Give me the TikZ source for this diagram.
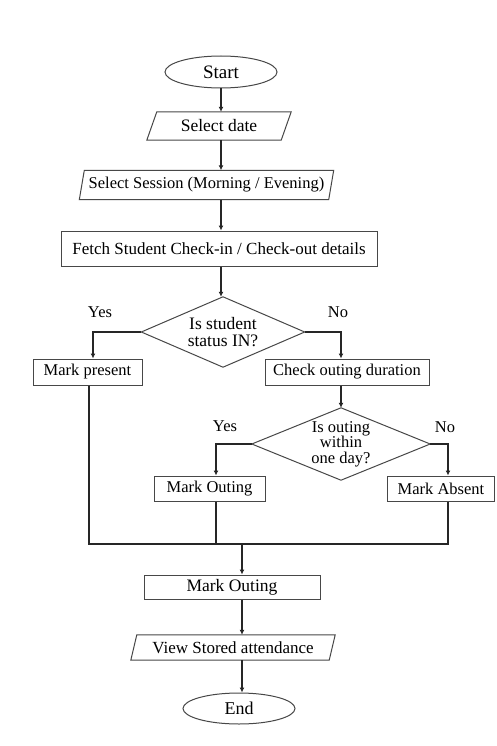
\documentclass[tikz,border=0pt]{standalone}
\usepackage{fontspec}
\setmainfont{Liberation Serif}
\usetikzlibrary{shapes.geometric,arrows.meta}
\newcommand\pgram[2]{\draw[shapeline] ([xshift=#2]#1.north west) -- ([xshift=#2]#1.north east) -- ([xshift=-#2]#1.south east) -- ([xshift=-#2]#1.south west) -- cycle;}
\newcommand\dmd[1]{\draw[shapeline] (#1.north) -- (#1.east) -- (#1.south) -- (#1.west) -- cycle;}
\begin{document}
\begin{tikzpicture}[x=1pt,y=-1pt,
  shapeline/.style={draw=black!72, line width=1pt},
  line/.style={draw=black!85, line width=1.2pt},
  arr/.style={line, -{Latex[length=5pt,width=5pt]}},
  term/.style={ellipse, draw=black!72, line width=1pt, inner sep=0pt, font=\fontsize{19}{19}\selectfont},
  proc/.style={rectangle, draw=black!72, line width=1pt, inner sep=0pt, font=\fontsize{16.5}{16}\selectfont},
  io/.style={rectangle, inner sep=0pt, font=\fontsize{16.5}{16}\selectfont},
  dec/.style={rectangle, inner sep=0pt, align=center, font=\fontsize{17.5}{16.5}\selectfont},
  lab/.style={font=\fontsize{16.5}{16}\selectfont}
]
\useasboundingbox (0,0) rectangle (496,746);
\fill[white] (0,0) rectangle (496,746);

\node[term, minimum width=112pt, minimum height=32pt] (start) at (221,72) {Start};
\node[io, minimum width=134pt, minimum height=28pt, font=\fontsize{17.5}{16}\selectfont] (date) at (219,126) {Select date};
\pgram{date}{5pt}
\node[io, minimum width=249pt, minimum height=29pt] (session) at (206.5,185) {Select Session (Morning / Evening)};
\pgram{session}{2.5pt}
\node[proc, minimum width=316pt, minimum height=35pt, font=\fontsize{17}{16}\selectfont] (fetch) at (219,248.5) {Fetch Student Check-in / Check-out details};
\node[dec, minimum width=163pt, minimum height=70pt] (d1) at (223,332) {Is student\\status IN?};
\dmd{d1}
\node[lab] (yes1) at (100,312) {Yes};
\node[lab] (no1) at (338,312) {No};
\node[proc, minimum width=109pt, minimum height=26pt] (present) at (87.5,372) {Mark present};
\node[proc, minimum width=164pt, minimum height=26pt] (check) at (347,372) {Check outing duration};
\node[dec, minimum width=178pt, minimum height=72pt, font=\fontsize{16.5}{15.5}\selectfont] (d2) at (341,444) {Is outing\\within\\one day?};
\dmd{d2}
\node[lab] (yes2) at (225,426) {Yes};
\node[lab] (no2) at (445,427) {No};
\node[proc, minimum width=111pt, minimum height=25pt] (mo) at (209.5,488.5) {Mark Outing};
\node[proc, minimum width=107pt, minimum height=25pt] (ma) at (441,488.5) {Mark Absent};
\coordinate (m) at (242,544);
\node[proc, minimum width=176pt, minimum height=24pt, font=\fontsize{17.5}{16}\selectfont] (mo2) at (232,587) {Mark Outing};
\node[io, minimum width=198pt, minimum height=25pt, font=\fontsize{17}{16}\selectfont] (view) at (233,647.5) {View Stored attendance};
\pgram{view}{3pt}
\node[term, minimum width=112pt, minimum height=31pt, font=\fontsize{18}{18}\selectfont] (end) at (239,708.5) {End};

\draw[arr] (start.south) -- (start.south |- date.north);
\draw[arr] ([xshift=2pt]date.south) -- ([xshift=2pt]date.south |- session.north);
\draw[arr] ([xshift=14.5pt]session.south) -- ([xshift=14.5pt]session.south |- fetch.north);
\draw[arr] ([xshift=2pt]fetch.south) -- ([xshift=2pt]fetch.south |- d1.north);
\draw[arr] (d1.west) -| ([xshift=5.5pt]present.north);
\draw[arr] (d1.east) -| ([xshift=-6pt]check.north);
\draw[arr] ([xshift=-6pt]check.south) -- (d2.north);
\draw[arr] (d2.west) -| ([xshift=6.5pt]mo.north);
\draw[arr] (d2.east) -| ([xshift=7pt]ma.north);
\draw[line] ([xshift=1.5pt]present.south) |- ([xshift=7pt]ma.south |- m) -- ([xshift=7pt]ma.south);
\draw[line] ([xshift=6.5pt]mo.south) -- ([xshift=6.5pt]mo.south |- m);
\draw[arr] (m) -- (m |- mo2.north);
\draw[arr] (m |- mo2.south) -- (m |- view.north);
\draw[arr] (m |- view.south) -- (m |- end.north);
\end{tikzpicture}
\end{document}
